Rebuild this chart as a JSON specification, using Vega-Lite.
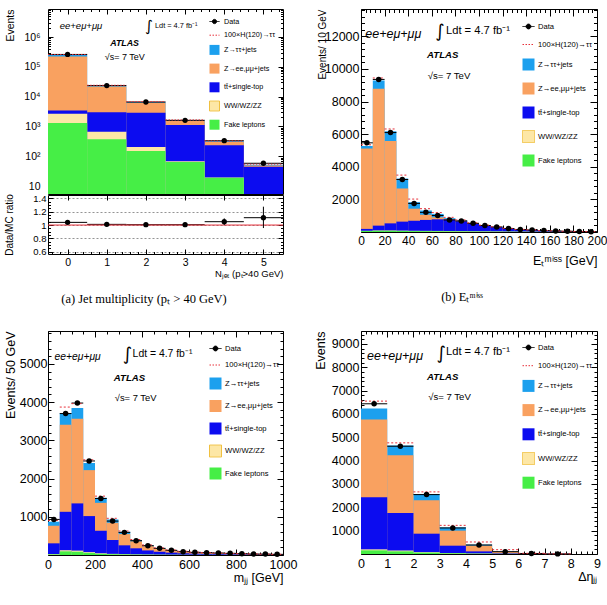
{
"$schema": "https://vega.github.io/schema/vega-lite/v6.json",
"padding": {"left": 3, "top": 8, "right": 0, "bottom": 5},
"background": "white",
"config": {
  "font": "Liberation Sans",
  "view": {"stroke": "black", "strokeWidth": 1},
  "axis": {"domain": false, "grid": false, "tickColor": "black", "labelColor": "black", "titleColor": "black", "titleFontWeight": "normal", "labelOverlap": false, "labelFlush": false, "tickWidth": 1, "zindex": 1, "labelFont": "Liberation Sans", "titleFont": "Liberation Sans"},
  "title": {"font": "Liberation Serif", "fontWeight": "normal", "color": "black", "fontSize": 12.5}
},
"datasets": {
  "a_comp": [
    {"b":-0.5,"e":0.5,"c":"Z→ττ+jets","v":250000},{"b":0.5,"e":1.5,"c":"Z→ττ+jets","v":23300},{"b":1.5,"e":2.5,"c":"Z→ττ+jets","v":6600},{"b":2.5,"e":3.5,"c":"Z→ττ+jets","v":1600},{"b":3.5,"e":4.5,"c":"Z→ττ+jets","v":315},{"b":4.5,"e":5.5,"c":"Z→ττ+jets","v":52},
    {"b":-0.5,"e":0.5,"c":"Z→ee,μμ+jets","v":220000},{"b":0.5,"e":1.5,"c":"Z→ee,μμ+jets","v":22000},{"b":1.5,"e":2.5,"c":"Z→ee,μμ+jets","v":6200},{"b":2.5,"e":3.5,"c":"Z→ee,μμ+jets","v":1520},{"b":3.5,"e":4.5,"c":"Z→ee,μμ+jets","v":300},{"b":4.5,"e":5.5,"c":"Z→ee,μμ+jets","v":49},
    {"b":-0.5,"e":0.5,"c":"tt̄+single-top","v":3400},{"b":0.5,"e":1.5,"c":"tt̄+single-top","v":3000},{"b":1.5,"e":2.5,"c":"tt̄+single-top","v":2900},{"b":2.5,"e":3.5,"c":"tt̄+single-top","v":1120},{"b":3.5,"e":4.5,"c":"tt̄+single-top","v":233},{"b":4.5,"e":5.5,"c":"tt̄+single-top","v":44.5},
    {"b":-0.5,"e":0.5,"c":"WW/WZ/ZZ","v":2650},{"b":0.5,"e":1.5,"c":"WW/WZ/ZZ","v":660},{"b":1.5,"e":2.5,"c":"WW/WZ/ZZ","v":203},{"b":2.5,"e":3.5,"c":"WW/WZ/ZZ","v":68},{"b":3.5,"e":4.5,"c":"WW/WZ/ZZ","v":19.5},{"b":4.5,"e":5.5,"c":"WW/WZ/ZZ","v":3.5},
    {"b":-0.5,"e":0.5,"c":"Fake leptons","v":1300},{"b":0.5,"e":1.5,"c":"Fake leptons","v":370},{"b":1.5,"e":2.5,"c":"Fake leptons","v":150},{"b":2.5,"e":3.5,"c":"Fake leptons","v":64},{"b":3.5,"e":4.5,"c":"Fake leptons","v":19},{"b":4.5,"e":5.5,"c":"Fake leptons","v":3}
  ],
  "a_pts": [
    {"b":-0.5,"e":0.5,"m":0,"d":260000,"h":257500},{"b":0.5,"e":1.5,"m":1,"d":23500,"h":24000},{"b":1.5,"e":2.5,"m":2,"d":6600,"h":6800},{"b":2.5,"e":3.5,"m":3,"d":1600,"h":1650},{"b":3.5,"e":4.5,"m":4,"d":331,"h":325},{"b":4.5,"e":5.5,"m":5,"d":58,"h":54}
  ],
  "a_ratio": [
    {"b":-0.5,"e":0.5,"m":0,"r":1.04,"lo":1.035,"hi":1.045},{"b":0.5,"e":1.5,"m":1,"r":1.01,"lo":1.0,"hi":1.02},{"b":1.5,"e":2.5,"m":2,"r":1.005,"lo":0.99,"hi":1.02},{"b":2.5,"e":3.5,"m":3,"r":1.005,"lo":0.975,"hi":1.035},{"b":3.5,"e":4.5,"m":4,"r":1.05,"lo":1.0,"hi":1.1},{"b":4.5,"e":5.5,"m":5,"r":1.11,"lo":0.955,"hi":1.275}
  ],
  "b_comp": [
    {"b":0,"e":10,"c":"Z→ττ+jets","v":5270},{"b":10,"e":20,"c":"Z→ττ+jets","v":9300},{"b":20,"e":30,"c":"Z→ττ+jets","v":6180},{"b":30,"e":40,"c":"Z→ττ+jets","v":3280},{"b":40,"e":50,"c":"Z→ττ+jets","v":1830},{"b":50,"e":60,"c":"Z→ττ+jets","v":1320},{"b":60,"e":70,"c":"Z→ττ+jets","v":1110},{"b":70,"e":80,"c":"Z→ττ+jets","v":850},{"b":80,"e":90,"c":"Z→ττ+jets","v":715},{"b":90,"e":100,"c":"Z→ττ+jets","v":545},{"b":100,"e":110,"c":"Z→ττ+jets","v":405},{"b":110,"e":120,"c":"Z→ττ+jets","v":312},{"b":120,"e":130,"c":"Z→ττ+jets","v":217},{"b":130,"e":140,"c":"Z→ττ+jets","v":154},{"b":140,"e":150,"c":"Z→ττ+jets","v":125},{"b":150,"e":160,"c":"Z→ττ+jets","v":87},{"b":160,"e":170,"c":"Z→ττ+jets","v":65},{"b":170,"e":180,"c":"Z→ττ+jets","v":46},{"b":180,"e":190,"c":"Z→ττ+jets","v":32},{"b":190,"e":200,"c":"Z→ττ+jets","v":22},
    {"b":0,"e":10,"c":"Z→ee,μμ+jets","v":5120},{"b":10,"e":20,"c":"Z→ee,μμ+jets","v":8790},{"b":20,"e":30,"c":"Z→ee,μμ+jets","v":5590},{"b":30,"e":40,"c":"Z→ee,μμ+jets","v":2670},{"b":40,"e":50,"c":"Z→ee,μμ+jets","v":1430},{"b":50,"e":60,"c":"Z→ee,μμ+jets","v":1060},{"b":60,"e":70,"c":"Z→ee,μμ+jets","v":900},{"b":70,"e":80,"c":"Z→ee,μμ+jets","v":800},{"b":80,"e":90,"c":"Z→ee,μμ+jets","v":690},{"b":90,"e":100,"c":"Z→ee,μμ+jets","v":530},{"b":100,"e":110,"c":"Z→ee,μμ+jets","v":395},{"b":110,"e":120,"c":"Z→ee,μμ+jets","v":305},{"b":120,"e":130,"c":"Z→ee,μμ+jets","v":212},{"b":130,"e":140,"c":"Z→ee,μμ+jets","v":150},{"b":140,"e":150,"c":"Z→ee,μμ+jets","v":122},{"b":150,"e":160,"c":"Z→ee,μμ+jets","v":85},{"b":160,"e":170,"c":"Z→ee,μμ+jets","v":64},{"b":170,"e":180,"c":"Z→ee,μμ+jets","v":45},{"b":180,"e":190,"c":"Z→ee,μμ+jets","v":31},{"b":190,"e":200,"c":"Z→ee,μμ+jets","v":21},
    {"b":0,"e":10,"c":"tt̄+single-top","v":190},{"b":10,"e":20,"c":"tt̄+single-top","v":390},{"b":20,"e":30,"c":"tt̄+single-top","v":530},{"b":30,"e":40,"c":"tt̄+single-top","v":636},{"b":40,"e":50,"c":"tt̄+single-top","v":690},{"b":50,"e":60,"c":"tt̄+single-top","v":740},{"b":60,"e":70,"c":"tt̄+single-top","v":777},{"b":70,"e":80,"c":"tt̄+single-top","v":760},{"b":80,"e":90,"c":"tt̄+single-top","v":660},{"b":90,"e":100,"c":"tt̄+single-top","v":510},{"b":100,"e":110,"c":"tt̄+single-top","v":380},{"b":110,"e":120,"c":"tt̄+single-top","v":295},{"b":120,"e":130,"c":"tt̄+single-top","v":205},{"b":130,"e":140,"c":"tt̄+single-top","v":145},{"b":140,"e":150,"c":"tt̄+single-top","v":118},{"b":150,"e":160,"c":"tt̄+single-top","v":82},{"b":160,"e":170,"c":"tt̄+single-top","v":62},{"b":170,"e":180,"c":"tt̄+single-top","v":44},{"b":180,"e":190,"c":"tt̄+single-top","v":30},{"b":190,"e":200,"c":"tt̄+single-top","v":20},
    {"b":0,"e":10,"c":"WW/WZ/ZZ","v":75},{"b":10,"e":20,"c":"WW/WZ/ZZ","v":95},{"b":20,"e":30,"c":"WW/WZ/ZZ","v":95},{"b":30,"e":40,"c":"WW/WZ/ZZ","v":85},{"b":40,"e":50,"c":"WW/WZ/ZZ","v":75},{"b":50,"e":60,"c":"WW/WZ/ZZ","v":70},{"b":60,"e":70,"c":"WW/WZ/ZZ","v":65},{"b":70,"e":80,"c":"WW/WZ/ZZ","v":58},{"b":80,"e":90,"c":"WW/WZ/ZZ","v":52},{"b":90,"e":100,"c":"WW/WZ/ZZ","v":45},{"b":100,"e":110,"c":"WW/WZ/ZZ","v":40},{"b":110,"e":120,"c":"WW/WZ/ZZ","v":35},{"b":120,"e":130,"c":"WW/WZ/ZZ","v":30},{"b":130,"e":140,"c":"WW/WZ/ZZ","v":25},{"b":140,"e":150,"c":"WW/WZ/ZZ","v":20},{"b":150,"e":160,"c":"WW/WZ/ZZ","v":16},{"b":160,"e":170,"c":"WW/WZ/ZZ","v":13},{"b":170,"e":180,"c":"WW/WZ/ZZ","v":10},{"b":180,"e":190,"c":"WW/WZ/ZZ","v":8},{"b":190,"e":200,"c":"WW/WZ/ZZ","v":6},
    {"b":0,"e":10,"c":"Fake leptons","v":60},{"b":10,"e":20,"c":"Fake leptons","v":75},{"b":20,"e":30,"c":"Fake leptons","v":75},{"b":30,"e":40,"c":"Fake leptons","v":65},{"b":40,"e":50,"c":"Fake leptons","v":55},{"b":50,"e":60,"c":"Fake leptons","v":50},{"b":60,"e":70,"c":"Fake leptons","v":45},{"b":70,"e":80,"c":"Fake leptons","v":40},{"b":80,"e":90,"c":"Fake leptons","v":35},{"b":90,"e":100,"c":"Fake leptons","v":30},{"b":100,"e":110,"c":"Fake leptons","v":26},{"b":110,"e":120,"c":"Fake leptons","v":22},{"b":120,"e":130,"c":"Fake leptons","v":18},{"b":130,"e":140,"c":"Fake leptons","v":15},{"b":140,"e":150,"c":"Fake leptons","v":12},{"b":150,"e":160,"c":"Fake leptons","v":10},{"b":160,"e":170,"c":"Fake leptons","v":8},{"b":170,"e":180,"c":"Fake leptons","v":6},{"b":180,"e":190,"c":"Fake leptons","v":5},{"b":190,"e":200,"c":"Fake leptons","v":4}
  ],
  "b_pts": [
    {"b":0,"e":10,"m":5,"d":5470,"h":5350},{"b":10,"e":20,"m":15,"d":9360,"h":9450},{"b":20,"e":30,"m":25,"d":6100,"h":6320},{"b":30,"e":40,"m":35,"d":3220,"h":3490},{"b":40,"e":50,"m":45,"d":1755,"h":2020},{"b":50,"e":60,"m":55,"d":1205,"h":1430},{"b":60,"e":70,"m":65,"d":1010,"h":1190},{"b":70,"e":80,"m":75,"d":740,"h":900},{"b":80,"e":90,"m":85,"d":679,"h":740},{"b":90,"e":100,"m":95,"d":532,"h":565},{"b":100,"e":110,"m":105,"d":400,"h":420},{"b":110,"e":120,"m":115,"d":310,"h":322},{"b":120,"e":130,"m":125,"d":210,"h":225},{"b":130,"e":140,"m":135,"d":150,"h":160},{"b":140,"e":150,"m":145,"d":126,"h":130},{"b":150,"e":160,"m":155,"d":86,"h":90},{"b":160,"e":170,"m":165,"d":65,"h":68},{"b":170,"e":180,"m":175,"d":45,"h":48},{"b":180,"e":190,"m":185,"d":30,"h":34},{"b":190,"e":200,"m":195,"d":20,"h":24}
  ],
  "c_comp": [
    {"b":0,"e":50,"c":"Z→ττ+jets","v":870},{"b":50,"e":100,"c":"Z→ττ+jets","v":3715},{"b":100,"e":150,"c":"Z→ττ+jets","v":3845},{"b":150,"e":200,"c":"Z→ττ+jets","v":2410},{"b":200,"e":250,"c":"Z→ττ+jets","v":1496},{"b":250,"e":300,"c":"Z→ττ+jets","v":930},{"b":300,"e":350,"c":"Z→ττ+jets","v":608},{"b":350,"e":400,"c":"Z→ττ+jets","v":391},{"b":400,"e":450,"c":"Z→ττ+jets","v":252},{"b":450,"e":500,"c":"Z→ττ+jets","v":180},{"b":500,"e":550,"c":"Z→ττ+jets","v":128},{"b":550,"e":600,"c":"Z→ττ+jets","v":92},{"b":600,"e":650,"c":"Z→ττ+jets","v":72},{"b":650,"e":700,"c":"Z→ττ+jets","v":60},{"b":700,"e":750,"c":"Z→ττ+jets","v":48},{"b":750,"e":800,"c":"Z→ττ+jets","v":40},{"b":800,"e":850,"c":"Z→ττ+jets","v":32},{"b":850,"e":900,"c":"Z→ττ+jets","v":26},{"b":900,"e":950,"c":"Z→ττ+jets","v":21},{"b":950,"e":1000,"c":"Z→ττ+jets","v":17},
    {"b":0,"e":50,"c":"Z→ee,μμ+jets","v":765},{"b":50,"e":100,"c":"Z→ee,μμ+jets","v":3410},{"b":100,"e":150,"c":"Z→ee,μμ+jets","v":3567},{"b":150,"e":200,"c":"Z→ee,μμ+jets","v":2220},{"b":200,"e":250,"c":"Z→ee,μμ+jets","v":1365},{"b":250,"e":300,"c":"Z→ee,μμ+jets","v":843},{"b":300,"e":350,"c":"Z→ee,μμ+jets","v":548},{"b":350,"e":400,"c":"Z→ee,μμ+jets","v":358},{"b":400,"e":450,"c":"Z→ee,μμ+jets","v":232},{"b":450,"e":500,"c":"Z→ee,μμ+jets","v":165},{"b":500,"e":550,"c":"Z→ee,μμ+jets","v":118},{"b":550,"e":600,"c":"Z→ee,μμ+jets","v":85},{"b":600,"e":650,"c":"Z→ee,μμ+jets","v":66},{"b":650,"e":700,"c":"Z→ee,μμ+jets","v":55},{"b":700,"e":750,"c":"Z→ee,μμ+jets","v":44},{"b":750,"e":800,"c":"Z→ee,μμ+jets","v":37},{"b":800,"e":850,"c":"Z→ee,μμ+jets","v":29},{"b":850,"e":900,"c":"Z→ee,μμ+jets","v":24},{"b":900,"e":950,"c":"Z→ee,μμ+jets","v":19},{"b":950,"e":1000,"c":"Z→ee,μμ+jets","v":15},
    {"b":0,"e":50,"c":"tt̄+single-top","v":305},{"b":50,"e":100,"c":"tt̄+single-top","v":1130},{"b":100,"e":150,"c":"tt̄+single-top","v":1350},{"b":150,"e":200,"c":"tt̄+single-top","v":1018},{"b":200,"e":250,"c":"tt̄+single-top","v":634},{"b":250,"e":300,"c":"tt̄+single-top","v":392},{"b":300,"e":350,"c":"tt̄+single-top","v":253},{"b":350,"e":400,"c":"tt̄+single-top","v":175},{"b":400,"e":450,"c":"tt̄+single-top","v":120},{"b":450,"e":500,"c":"tt̄+single-top","v":85},{"b":500,"e":550,"c":"tt̄+single-top","v":62},{"b":550,"e":600,"c":"tt̄+single-top","v":46},{"b":600,"e":650,"c":"tt̄+single-top","v":36},{"b":650,"e":700,"c":"tt̄+single-top","v":30},{"b":700,"e":750,"c":"tt̄+single-top","v":24},{"b":750,"e":800,"c":"tt̄+single-top","v":20},{"b":800,"e":850,"c":"tt̄+single-top","v":16},{"b":850,"e":900,"c":"tt̄+single-top","v":13},{"b":900,"e":950,"c":"tt̄+single-top","v":10},{"b":950,"e":1000,"c":"tt̄+single-top","v":8},
    {"b":0,"e":50,"c":"WW/WZ/ZZ","v":25},{"b":50,"e":100,"c":"WW/WZ/ZZ","v":125},{"b":100,"e":150,"c":"WW/WZ/ZZ","v":115},{"b":150,"e":200,"c":"WW/WZ/ZZ","v":75},{"b":200,"e":250,"c":"WW/WZ/ZZ","v":45},{"b":250,"e":300,"c":"WW/WZ/ZZ","v":30},{"b":300,"e":350,"c":"WW/WZ/ZZ","v":22},{"b":350,"e":400,"c":"WW/WZ/ZZ","v":15},{"b":400,"e":450,"c":"WW/WZ/ZZ","v":12},{"b":450,"e":500,"c":"WW/WZ/ZZ","v":9},{"b":500,"e":550,"c":"WW/WZ/ZZ","v":7},{"b":550,"e":600,"c":"WW/WZ/ZZ","v":6},{"b":600,"e":650,"c":"WW/WZ/ZZ","v":5},{"b":650,"e":700,"c":"WW/WZ/ZZ","v":4},{"b":700,"e":750,"c":"WW/WZ/ZZ","v":3},{"b":750,"e":800,"c":"WW/WZ/ZZ","v":3},{"b":800,"e":850,"c":"WW/WZ/ZZ","v":2},{"b":850,"e":900,"c":"WW/WZ/ZZ","v":2},{"b":900,"e":950,"c":"WW/WZ/ZZ","v":1},{"b":950,"e":1000,"c":"WW/WZ/ZZ","v":1},
    {"b":0,"e":50,"c":"Fake leptons","v":15},{"b":50,"e":100,"c":"Fake leptons","v":95},{"b":100,"e":150,"c":"Fake leptons","v":85},{"b":150,"e":200,"c":"Fake leptons","v":55},{"b":200,"e":250,"c":"Fake leptons","v":30},{"b":250,"e":300,"c":"Fake leptons","v":20},{"b":300,"e":350,"c":"Fake leptons","v":15},{"b":350,"e":400,"c":"Fake leptons","v":10},{"b":400,"e":450,"c":"Fake leptons","v":8},{"b":450,"e":500,"c":"Fake leptons","v":6},{"b":500,"e":550,"c":"Fake leptons","v":5},{"b":550,"e":600,"c":"Fake leptons","v":4},{"b":600,"e":650,"c":"Fake leptons","v":3},{"b":650,"e":700,"c":"Fake leptons","v":3},{"b":700,"e":750,"c":"Fake leptons","v":2},{"b":750,"e":800,"c":"Fake leptons","v":2},{"b":800,"e":850,"c":"Fake leptons","v":1},{"b":850,"e":900,"c":"Fake leptons","v":1},{"b":900,"e":950,"c":"Fake leptons","v":1},{"b":950,"e":1000,"c":"Fake leptons","v":1}
  ],
  "c_pts": [
    {"b":0,"e":50,"m":25,"d":931,"h":905},{"b":50,"e":100,"m":75,"d":3700,"h":3870},{"b":100,"e":150,"m":125,"d":3975,"h":3960},{"b":150,"e":200,"m":175,"d":2460,"h":2490},{"b":200,"e":250,"m":225,"d":1479,"h":1540},{"b":250,"e":300,"m":275,"d":887,"h":960},{"b":300,"e":350,"m":325,"d":592,"h":628},{"b":350,"e":400,"m":375,"d":374,"h":405},{"b":400,"e":450,"m":425,"d":244,"h":262},{"b":450,"e":500,"m":475,"d":174,"h":188},{"b":500,"e":550,"m":525,"d":122,"h":134},{"b":550,"e":600,"m":575,"d":87,"h":97},{"b":600,"e":650,"m":625,"d":70,"h":75},{"b":650,"e":700,"m":675,"d":62,"h":63},{"b":700,"e":750,"m":725,"d":52,"h":50},{"b":750,"e":800,"m":775,"d":43,"h":42},{"b":800,"e":850,"m":825,"d":35,"h":34},{"b":850,"e":900,"m":875,"d":26,"h":27},{"b":900,"e":950,"m":925,"d":24,"h":22},{"b":950,"e":1000,"m":975,"d":17,"h":18}
  ],
  "d_comp": [
    {"b":0,"e":1,"c":"Z→ττ+jets","v":6234},{"b":1,"e":2,"c":"Z→ττ+jets","v":4646},{"b":2,"e":3,"c":"Z→ττ+jets","v":2574},{"b":3,"e":4,"c":"Z→ττ+jets","v":1141},{"b":4,"e":5,"c":"Z→ττ+jets","v":400},{"b":5,"e":6,"c":"Z→ττ+jets","v":112},{"b":6,"e":7,"c":"Z→ττ+jets","v":25},{"b":7,"e":8,"c":"Z→ττ+jets","v":6},
    {"b":0,"e":1,"c":"Z→ee,μμ+jets","v":5760},{"b":1,"e":2,"c":"Z→ee,μμ+jets","v":4232},{"b":2,"e":3,"c":"Z→ee,μμ+jets","v":2300},{"b":3,"e":4,"c":"Z→ee,μμ+jets","v":1000},{"b":4,"e":5,"c":"Z→ee,μμ+jets","v":356},{"b":5,"e":6,"c":"Z→ee,μμ+jets","v":100},{"b":6,"e":7,"c":"Z→ee,μμ+jets","v":22},{"b":7,"e":8,"c":"Z→ee,μμ+jets","v":5},
    {"b":0,"e":1,"c":"tt̄+single-top","v":2430},{"b":1,"e":2,"c":"tt̄+single-top","v":1759},{"b":2,"e":3,"c":"tt̄+single-top","v":870},{"b":3,"e":4,"c":"tt̄+single-top","v":356},{"b":4,"e":5,"c":"tt̄+single-top","v":112},{"b":5,"e":6,"c":"tt̄+single-top","v":30},{"b":6,"e":7,"c":"tt̄+single-top","v":8},{"b":7,"e":8,"c":"tt̄+single-top","v":2},
    {"b":0,"e":1,"c":"WW/WZ/ZZ","v":200},{"b":1,"e":2,"c":"WW/WZ/ZZ","v":150},{"b":2,"e":3,"c":"WW/WZ/ZZ","v":80},{"b":3,"e":4,"c":"WW/WZ/ZZ","v":40},{"b":4,"e":5,"c":"WW/WZ/ZZ","v":20},{"b":5,"e":6,"c":"WW/WZ/ZZ","v":8},{"b":6,"e":7,"c":"WW/WZ/ZZ","v":3},{"b":7,"e":8,"c":"WW/WZ/ZZ","v":1},
    {"b":0,"e":1,"c":"Fake leptons","v":155},{"b":1,"e":2,"c":"Fake leptons","v":112},{"b":2,"e":3,"c":"Fake leptons","v":60},{"b":3,"e":4,"c":"Fake leptons","v":30},{"b":4,"e":5,"c":"Fake leptons","v":15},{"b":5,"e":6,"c":"Fake leptons","v":5},{"b":6,"e":7,"c":"Fake leptons","v":2},{"b":7,"e":8,"c":"Fake leptons","v":1}
  ],
  "d_pts": [
    {"b":0,"e":1,"m":0.5,"d":6433,"h":6547},{"b":1,"e":2,"m":1.5,"d":4616,"h":4760},{"b":2,"e":3,"m":2.5,"d":2544,"h":2660},{"b":3,"e":4,"m":3.5,"d":1115,"h":1227},{"b":4,"e":5,"m":4.5,"d":386,"h":515},{"b":5,"e":6,"m":5.5,"d":99,"h":185},{"b":6,"e":7,"m":6.5,"d":20,"h":30},{"b":7,"e":8,"m":7.5,"d":5,"h":7}
  ]
},
"resolve": {"scale": {"color": "independent"}, "legend": {"color": "independent"}},
"spacing": 24,
"vconcat": [
 {
  "hconcat": [
   {
    "title": {"text": "(a) Jet multiplicity (pₜ > 40 GeV)", "orient": "bottom", "offset": 15, "anchor": "middle", "frame": "bounds"},
    "spacing": 1,
    "bounds": "flush",
    "vconcat": [
     {
      "width": 235, "height": 185,
      "resolve": {"axis": {"x": "independent", "y": "independent"}},
      "layer": [
       {
        "data": {"name": "a_comp"},
        "mark": {"type": "rect", "clip": true},
        "encoding": {
          "x": {"field": "b", "type": "quantitative", "scale": {"domain": [-0.5, 5.5], "nice": false, "zero": false},
                "axis": {"orient": "bottom", "values": [0,1,2,3,4,5], "labels": false, "tickSize": -5, "title": null}},
          "x2": {"field": "e"},
          "y": {"field": "v", "type": "quantitative", "scale": {"type": "log", "domain": [5.4, 8700000], "nice": false},
                "axis": {"orient": "left", "values": [10,100,1000,10000,100000,1000000], "labelExpr": "datum.value < 15 ? '10' : '10' + ['','','²','³','⁴','⁵','⁶'][round(log(datum.value)/LN10)]", "tickSize": -5, "labelPadding": 13, "labelFontSize": 10.5, "title": "Events", "titleAnchor": "end", "titleFontSize": 10.5, "minExtent": 25, "maxExtent": 25, "titlePadding": 8}},
          "y2": {"datum": 1},
          "color": {"field": "c", "type": "nominal",
            "scale": {"domain": ["Data","100×H(120)→ττ","Z→ττ+jets","Z→ee,μμ+jets","tt̄+single-top","WW/WZ/ZZ","Fake leptons"], "range": ["#000000","#e8303a","#1ca0ee","#f9a160","#0c0cf0","#fde7a6","#46ee46"]},
            "legend": {"title": null, "orient": "none", "legendX": 161, "legendY": 7, "symbolSize": 100, "symbolType": "square", "labelFontSize": 7.2, "labelFont": "Liberation Sans", "labelColor": "black", "labelOffset": 4, "rowPadding": 3.7, "symbolStrokeWidth": 1, "labelLimit": 200,
              "encode": {"symbols": {"update": {
                "shape": {"signal": "datum.value == 'Data' ? 'M-1,0H1M0.42,0A0.42,0.42,0,1,1,-0.42,0A0.42,0.42,0,1,1,0.42,0Z' : (datum.value == '100×H(120)→ττ' ? 'M-1,0H1' : 'square')"},
                "stroke": {"signal": "datum.value == 'Data' ? 'black' : (datum.value == '100×H(120)→ττ' ? '#e8303a' : (datum.value == 'WW/WZ/ZZ' ? '#f0c040' : 'transparent'))"},
                "strokeDash": {"signal": "datum.value == '100×H(120)→ττ' ? [1.5,1.5] : [1,0]"}
              }}}}}
        }
       },
       {
        "data": {"name": "a_pts"},
        "mark": {"type": "rule", "color": "black", "strokeWidth": 1},
        "encoding": {
          "x": {"field": "b", "type": "quantitative", "axis": {"orient": "top", "values": [0,1,2,3,4,5], "labels": false, "tickSize": -5, "title": null}},
          "x2": {"field": "e"},
          "y": {"field": "d", "type": "quantitative", "axis": {"orient": "right", "values": [10,100,1000,10000,100000,1000000], "labels": false, "tickSize": -5, "title": null}}
        }
       },
       {
        "data": {"name": "a_pts"},
        "mark": {"type": "rule", "color": "#e8303a", "strokeWidth": 1, "strokeDash": [1.5,1.5]},
        "encoding": {
          "x": {"field": "b", "type": "quantitative", "axis": {"orient": "bottom", "values": [-0.4,-0.2,0.2,0.4,0.6,0.8,1.2,1.4,1.6,1.8,2.2,2.4,2.6,2.8,3.2,3.4,3.6,3.8,4.2,4.4,4.6,4.8,5.2,5.4], "labels": false, "tickSize": -2.5, "title": null}},
          "x2": {"field": "e"},
          "y": {"field": "h", "type": "quantitative", "axis": {"orient": "left", "values": [6,7,8,9,20,30,40,50,60,70,80,90,200,300,400,500,600,700,800,900,2000,3000,4000,5000,6000,7000,8000,9000,20000,30000,40000,50000,60000,70000,80000,90000,200000,300000,400000,500000,600000,700000,800000,900000,2000000,3000000,4000000,5000000,6000000,7000000,8000000], "labels": false, "tickSize": -2.5, "title": null}}
        }
       },
       {
        "data": {"name": "a_pts"},
        "mark": {"type": "circle", "color": "black", "opacity": 1, "size": 28},
        "encoding": {
          "x": {"field": "m", "type": "quantitative", "axis": {"orient": "top", "values": [-0.4,-0.2,0.2,0.4,0.6,0.8,1.2,1.4,1.6,1.8,2.2,2.4,2.6,2.8,3.2,3.4,3.6,3.8,4.2,4.4,4.6,4.8,5.2,5.4], "labels": false, "tickSize": -2.5, "title": null}},
          "y": {"field": "d", "type": "quantitative", "axis": {"orient": "right", "values": [6,7,8,9,20,30,40,50,60,70,80,90,200,300,400,500,600,700,800,900,2000,3000,4000,5000,6000,7000,8000,9000,20000,30000,40000,50000,60000,70000,80000,90000,200000,300000,400000,500000,600000,700000,800000,900000,2000000,3000000,4000000,5000000,6000000,7000000,8000000], "labels": false, "tickSize": -2.5, "title": null}}
        }
       },
       {"data": {"values": [{}]}, "mark": {"type": "text", "text": "ee+eμ+μμ", "align": "left", "baseline": "middle", "fontSize": 9.5, "fontStyle": "italic"}, "encoding": {"x": {"datum": -0.2, "axis": null}, "y": {"datum": 2400000, "axis": null}}},
       {"data": {"values": [{}]}, "mark": {"type": "text", "text": "∫", "align": "left", "baseline": "middle", "fontSize": 15, "font": "DejaVu Sans"}, "encoding": {"x": {"datum": 1.98, "axis": null}, "y": {"datum": 2400000, "axis": null}}},
       {"data": {"values": [{}]}, "mark": {"type": "text", "text": "Ldt = 4.7 fb⁻¹", "align": "left", "baseline": "middle", "fontSize": 7.4}, "encoding": {"x": {"datum": 2.23, "axis": null}, "y": {"datum": 2400000, "axis": null}}},
       {"data": {"values": [{}]}, "mark": {"type": "text", "text": "ATLAS", "align": "left", "baseline": "middle", "fontSize": 8.8, "fontWeight": "bold", "fontStyle": "italic"}, "encoding": {"x": {"datum": 1.09, "axis": null}, "y": {"datum": 630000, "axis": null}}},
       {"data": {"values": [{}]}, "mark": {"type": "text", "text": "√s= 7 TeV", "align": "left", "baseline": "middle", "fontSize": 9}, "encoding": {"x": {"datum": 0.95, "axis": null}, "y": {"datum": 214000, "axis": null}}}
      ]
     },
     {
      "width": 235, "height": 59,
      "resolve": {"axis": {"x": "independent", "y": "independent"}},
      "layer": [
       {
        "data": {"name": "a_ratio"},
        "mark": {"type": "rule", "color": "black", "strokeWidth": 1},
        "encoding": {
          "x": {"field": "b", "type": "quantitative", "scale": {"domain": [-0.5, 5.5], "nice": false, "zero": false},
                "axis": {"orient": "bottom", "values": [0,1,2,3,4,5], "tickSize": -5, "labelPadding": 8, "labelFontSize": 10.5, "title": "Nⱼₑₜ (pₜ>40 GeV)", "titleAnchor": "end", "titleFontSize": 9.5, "minExtent": 14, "maxExtent": 14, "titlePadding": 0}},
          "x2": {"field": "e"},
          "y": {"field": "r", "type": "quantitative", "scale": {"domain": [0.566, 1.45], "nice": false, "zero": false},
                "axis": {"orient": "left", "values": [0.6,0.8,1,1.2,1.4], "format": "~g", "tickSize": -5, "labelPadding": 7, "labelFontSize": 9.5, "grid": true, "gridDash": [2,2], "gridColor": "#666", "gridWidth": 0.7, "zindex": 0, "title": "Data/MC ratio", "titleFontSize": 10, "minExtent": 25.5, "maxExtent": 25.5, "titlePadding": 8}}
        }
       },
       {
        "data": {"values": [{}]},
        "mark": {"type": "rule", "color": "#e8303a", "strokeWidth": 1},
        "encoding": {"y": {"datum": 1, "axis": {"orient": "right", "values": [0.6,0.65,0.7,0.75,0.8,0.85,0.9,0.95,1,1.05,1.1,1.15,1.2,1.25,1.3,1.35,1.4], "labels": false, "tickSize": -2.5, "title": null}}}
       },
       {
        "data": {"name": "a_ratio"},
        "mark": {"type": "rule", "color": "black", "strokeWidth": 1},
        "encoding": {
          "x": {"field": "m", "type": "quantitative", "axis": {"orient": "top", "values": [0,1,2,3,4,5], "labels": false, "tickSize": -5, "title": null}},
          "y": {"field": "lo", "type": "quantitative", "axis": {"orient": "right", "values": [0.6,0.8,1,1.2,1.4], "labels": false, "tickSize": -5, "title": null}},
          "y2": {"field": "hi"}
        }
       },
       {
        "data": {"name": "a_ratio"},
        "mark": {"type": "circle", "color": "black", "opacity": 1, "size": 28},
        "encoding": {
          "x": {"field": "m", "type": "quantitative", "axis": {"orient": "bottom", "values": [-0.4,-0.2,0.2,0.4,0.6,0.8,1.2,1.4,1.6,1.8,2.2,2.4,2.6,2.8,3.2,3.4,3.6,3.8,4.2,4.4,4.6,4.8,5.2,5.4], "labels": false, "tickSize": -2.5, "title": null}},
          "y": {"field": "r", "type": "quantitative", "axis": {"orient": "left", "values": [0.6,0.65,0.7,0.75,0.8,0.85,0.9,0.95,1,1.05,1.1,1.15,1.2,1.25,1.3,1.35,1.4], "labels": false, "tickSize": -2.5, "title": null}}
        }
       }
      ]
     }
    ]
   },
   {
    "width": 236, "height": 223,
    "title": {"text": "(b) Eₜᵐⁱˢˢ", "orient": "bottom", "offset": 24, "anchor": "middle", "frame": "bounds"},
    "resolve": {"axis": {"x": "independent", "y": "independent"}},
    "layer": [
     {
      "data": {"name": "b_comp"},
      "mark": {"type": "rect", "clip": true},
      "encoding": {
        "x": {"field": "b", "type": "quantitative", "scale": {"domain": [0, 200], "nice": false, "zero": false},
              "axis": {"orient": "bottom", "values": [0,20,40,60,80,100,120,140,160,180,200], "format": "d", "tickSize": -7, "labelPadding": 10, "labelFontSize": 12, "title": "Eₜᵐⁱˢˢ [GeV]", "titleAnchor": "end", "titleFontSize": 12.5, "minExtent": 17, "maxExtent": 17, "titlePadding": 5}},
        "x2": {"field": "e"},
        "y": {"field": "v", "type": "quantitative", "scale": {"domain": [0, 13680], "nice": false},
              "axis": {"orient": "left", "values": [2000,4000,6000,8000,10000,12000], "format": "d", "tickSize": -7, "labelPadding": 9, "labelFontSize": 12.5, "title": "Events/ 10 GeV", "titleAnchor": "end", "titleFontSize": 10, "minExtent": 30, "maxExtent": 30, "titlePadding": 4}},
        "y2": {"datum": 0},
        "color": {"field": "c", "type": "nominal",
          "scale": {"domain": ["Data","100×H(120)→ττ","Z→ττ+jets","Z→ee,μμ+jets","tt̄+single-top","WW/WZ/ZZ","Fake leptons"], "range": ["#000000","#e8303a","#1ca0ee","#f9a160","#0c0cf0","#fde7a6","#46ee46"]},
          "legend": {"title": null, "orient": "none", "legendX": 161, "legendY": 11, "symbolSize": 144, "symbolType": "square", "labelFontSize": 7.6, "labelFont": "Liberation Sans", "labelColor": "black", "labelOffset": 3, "rowPadding": 7, "symbolStrokeWidth": 1, "labelLimit": 200,
            "encode": {"symbols": {"update": {
              "shape": {"signal": "datum.value == 'Data' ? 'M-1,0H1M0.4,0A0.4,0.4,0,1,1,-0.4,0A0.4,0.4,0,1,1,0.4,0Z' : (datum.value == '100×H(120)→ττ' ? 'M-1,0H1' : 'square')"},
              "stroke": {"signal": "datum.value == 'Data' ? 'black' : (datum.value == '100×H(120)→ττ' ? '#e8303a' : (datum.value == 'WW/WZ/ZZ' ? '#f0c040' : 'transparent'))"},
              "strokeDash": {"signal": "datum.value == '100×H(120)→ττ' ? [1.5,1.5] : [1,0]"}
            }}}}}
      }
     },
     {
      "data": {"name": "b_pts"},
      "mark": {"type": "rule", "color": "black", "strokeWidth": 1},
      "encoding": {
        "x": {"field": "b", "type": "quantitative", "axis": {"orient": "top", "values": [0,20,40,60,80,100,120,140,160,180,200], "labels": false, "tickSize": -7, "title": null}},
        "x2": {"field": "e"},
        "y": {"field": "d", "type": "quantitative", "axis": {"orient": "right", "values": [2000,4000,6000,8000,10000,12000], "labels": false, "tickSize": -7, "title": null}}
      }
     },
     {
      "data": {"name": "b_pts"},
      "mark": {"type": "rule", "color": "#e8303a", "strokeWidth": 1, "strokeDash": [2,2]},
      "encoding": {
        "x": {"field": "b", "type": "quantitative", "axis": {"orient": "bottom", "values": [4,8,12,16,24,28,32,36,44,48,52,56,64,68,72,76,84,88,92,96,104,108,112,116,124,128,132,136,144,148,152,156,164,168,172,176,184,188,192,196], "labels": false, "tickSize": -3.5, "title": null}},
        "x2": {"field": "e"},
        "y": {"field": "h", "type": "quantitative", "axis": {"orient": "left", "values": [400,800,1200,1600,2400,2800,3200,3600,4400,4800,5200,5600,6400,6800,7200,7600,8400,8800,9200,9600,10400,10800,11200,11600,12400,12800,13200,13600], "labels": false, "tickSize": -3.5, "title": null}}
      }
     },
     {
      "data": {"name": "b_pts"},
      "mark": {"type": "circle", "color": "black", "opacity": 1, "size": 30},
      "encoding": {
        "x": {"field": "m", "type": "quantitative", "axis": {"orient": "top", "values": [4,8,12,16,24,28,32,36,44,48,52,56,64,68,72,76,84,88,92,96,104,108,112,116,124,128,132,136,144,148,152,156,164,168,172,176,184,188,192,196], "labels": false, "tickSize": -3.5, "title": null}},
        "y": {"field": "d", "type": "quantitative", "axis": {"orient": "right", "values": [400,800,1200,1600,2400,2800,3200,3600,4400,4800,5200,5600,6400,6800,7200,7600,8400,8800,9200,9600,10400,10800,11200,11600,12400,12800,13200,13600], "labels": false, "tickSize": -3.5, "title": null}}
      }
     },
     {"data": {"values": [{}]}, "mark": {"type": "text", "text": "ee+eμ+μμ", "align": "left", "baseline": "middle", "fontSize": 12.5, "fontStyle": "italic"}, "encoding": {"x": {"datum": 3.6, "axis": null}, "y": {"datum": 12150, "axis": null}}},
     {"data": {"values": [{}]}, "mark": {"type": "text", "text": "∫", "align": "left", "baseline": "middle", "fontSize": 18, "font": "DejaVu Sans"}, "encoding": {"x": {"datum": 63, "axis": null}, "y": {"datum": 12250, "axis": null}}},
     {"data": {"values": [{}]}, "mark": {"type": "text", "text": "Ldt = 4.7 fb⁻¹", "align": "left", "baseline": "middle", "fontSize": 11.2}, "encoding": {"x": {"datum": 72, "axis": null}, "y": {"datum": 12350, "axis": null}}},
     {"data": {"values": [{}]}, "mark": {"type": "text", "text": "ATLAS", "align": "left", "baseline": "middle", "fontSize": 9.6, "fontWeight": "bold", "fontStyle": "italic"}, "encoding": {"x": {"datum": 56, "axis": null}, "y": {"datum": 10830, "axis": null}}},
     {"data": {"values": [{}]}, "mark": {"type": "text", "text": "√s= 7 TeV", "align": "left", "baseline": "middle", "fontSize": 9.6}, "encoding": {"x": {"datum": 56.5, "axis": null}, "y": {"datum": 9565, "axis": null}}}
    ]
   }
  ],
  "spacing": 32,
  "resolve": {"scale": {"color": "independent"}, "legend": {"color": "independent"}}
 },
 {
  "hconcat": [
   {
    "width": 235, "height": 224,
    "resolve": {"axis": {"x": "independent", "y": "independent"}},
    "layer": [
     {
      "data": {"name": "c_comp"},
      "mark": {"type": "rect", "clip": true},
      "encoding": {
        "x": {"field": "b", "type": "quantitative", "scale": {"domain": [0, 1000], "nice": false, "zero": false},
              "axis": {"orient": "bottom", "values": [0,200,400,600,800,1000], "format": "d", "tickSize": -6, "labelPadding": 9, "labelFontSize": 12.5, "title": "mⱼⱼ [GeV]", "titleAnchor": "end", "titleFontSize": 12.5, "minExtent": 16, "maxExtent": 16, "titlePadding": 0}},
        "x2": {"field": "e"},
        "y": {"field": "v", "type": "quantitative", "scale": {"domain": [0, 5860], "nice": false},
              "axis": {"orient": "left", "values": [1000,2000,3000,4000,5000], "format": "d", "tickSize": -6, "labelPadding": 7, "labelFontSize": 12.5, "title": "Events/ 50 GeV", "titleAnchor": "end", "titleFontSize": 12.5, "minExtent": 27, "maxExtent": 27, "titlePadding": 4}},
        "y2": {"datum": 0},
        "color": {"field": "c", "type": "nominal",
          "scale": {"domain": ["Data","100×H(120)→ττ","Z→ττ+jets","Z→ee,μμ+jets","tt̄+single-top","WW/WZ/ZZ","Fake leptons"], "range": ["#000000","#e8303a","#1ca0ee","#f9a160","#0c0cf0","#fde7a6","#46ee46"]},
          "legend": {"title": null, "orient": "none", "legendX": 161, "legendY": 11, "symbolSize": 144, "symbolType": "square", "labelFontSize": 7.6, "labelFont": "Liberation Sans", "labelColor": "black", "labelOffset": 3, "rowPadding": 5.5, "symbolStrokeWidth": 1, "labelLimit": 200,
            "encode": {"symbols": {"update": {
              "shape": {"signal": "datum.value == 'Data' ? 'M-1,0H1M0.4,0A0.4,0.4,0,1,1,-0.4,0A0.4,0.4,0,1,1,0.4,0Z' : (datum.value == '100×H(120)→ττ' ? 'M-1,0H1' : 'square')"},
              "stroke": {"signal": "datum.value == 'Data' ? 'black' : (datum.value == '100×H(120)→ττ' ? '#e8303a' : (datum.value == 'WW/WZ/ZZ' ? '#f0c040' : 'transparent'))"},
              "strokeDash": {"signal": "datum.value == '100×H(120)→ττ' ? [1.5,1.5] : [1,0]"}
            }}}}}
      }
     },
     {
      "data": {"name": "c_pts"},
      "mark": {"type": "rule", "color": "black", "strokeWidth": 1},
      "encoding": {
        "x": {"field": "b", "type": "quantitative", "axis": {"orient": "top", "values": [0,200,400,600,800,1000], "labels": false, "tickSize": -6, "title": null}},
        "x2": {"field": "e"},
        "y": {"field": "d", "type": "quantitative", "axis": {"orient": "right", "values": [1000,2000,3000,4000,5000], "labels": false, "tickSize": -6, "title": null}}
      }
     },
     {
      "data": {"name": "c_pts"},
      "mark": {"type": "rule", "color": "#e8303a", "strokeWidth": 1, "strokeDash": [2,2]},
      "encoding": {
        "x": {"field": "b", "type": "quantitative", "axis": {"orient": "bottom", "values": [50,100,150,250,300,350,450,500,550,650,700,750,850,900,950], "labels": false, "tickSize": -3, "title": null}},
        "x2": {"field": "e"},
        "y": {"field": "h", "type": "quantitative", "axis": {"orient": "left", "values": [200,400,600,800,1200,1400,1600,1800,2200,2400,2600,2800,3200,3400,3600,3800,4200,4400,4600,4800,5200,5400,5600,5800], "labels": false, "tickSize": -3, "title": null}}
      }
     },
     {
      "data": {"name": "c_pts"},
      "mark": {"type": "circle", "color": "black", "opacity": 1, "size": 30},
      "encoding": {
        "x": {"field": "m", "type": "quantitative", "axis": {"orient": "top", "values": [50,100,150,250,300,350,450,500,550,650,700,750,850,900,950], "labels": false, "tickSize": -3, "title": null}},
        "y": {"field": "d", "type": "quantitative", "axis": {"orient": "right", "values": [200,400,600,800,1200,1400,1600,1800,2200,2400,2600,2800,3200,3400,3600,3800,4200,4400,4600,4800,5200,5400,5600,5800], "labels": false, "tickSize": -3, "title": null}}
      }
     },
     {"data": {"values": [{}]}, "mark": {"type": "text", "text": "ee+eμ+μμ", "align": "left", "baseline": "middle", "fontSize": 10.3, "fontStyle": "italic"}, "encoding": {"x": {"datum": 28, "axis": null}, "y": {"datum": 5175, "axis": null}}},
     {"data": {"values": [{}]}, "mark": {"type": "text", "text": "∫", "align": "left", "baseline": "middle", "fontSize": 18, "font": "DejaVu Sans"}, "encoding": {"x": {"datum": 318, "axis": null}, "y": {"datum": 5230, "axis": null}}},
     {"data": {"values": [{}]}, "mark": {"type": "text", "text": "Ldt = 4.7 fb⁻¹", "align": "left", "baseline": "middle", "fontSize": 10.4}, "encoding": {"x": {"datum": 360, "axis": null}, "y": {"datum": 5264, "axis": null}}},
     {"data": {"values": [{}]}, "mark": {"type": "text", "text": "ATLAS", "align": "left", "baseline": "middle", "fontSize": 9.6, "fontWeight": "bold", "fontStyle": "italic"}, "encoding": {"x": {"datum": 280, "axis": null}, "y": {"datum": 4630, "axis": null}}},
     {"data": {"values": [{}]}, "mark": {"type": "text", "text": "√s= 7 TeV", "align": "left", "baseline": "middle", "fontSize": 9.4}, "encoding": {"x": {"datum": 284, "axis": null}, "y": {"datum": 4115, "axis": null}}}
    ]
   },
   {
    "width": 236, "height": 223,
    "resolve": {"axis": {"x": "independent", "y": "independent"}},
    "layer": [
     {
      "data": {"name": "d_comp"},
      "mark": {"type": "rect", "clip": true},
      "encoding": {
        "x": {"field": "b", "type": "quantitative", "scale": {"domain": [0, 9], "nice": false, "zero": false},
              "axis": {"orient": "bottom", "values": [0,1,2,3,4,5,6,7,8,9], "tickSize": -6, "labelPadding": 9, "labelFontSize": 12.5, "title": "Δηⱼⱼ", "titleAnchor": "end", "titleFontSize": 12.5, "minExtent": 16, "maxExtent": 16, "titlePadding": 0}},
        "x2": {"field": "e"},
        "y": {"field": "v", "type": "quantitative", "scale": {"domain": [0, 9550], "nice": false},
              "axis": {"orient": "left", "values": [1000,2000,3000,4000,5000,6000,7000,8000,9000], "format": "d", "tickSize": -6, "labelPadding": 8, "labelFontSize": 12.5, "title": "Events", "titleAnchor": "end", "titleFontSize": 12.5, "minExtent": 30, "maxExtent": 30, "titlePadding": 4}},
        "y2": {"datum": 0},
        "color": {"field": "c", "type": "nominal",
          "scale": {"domain": ["Data","100×H(120)→ττ","Z→ττ+jets","Z→ee,μμ+jets","tt̄+single-top","WW/WZ/ZZ","Fake leptons"], "range": ["#000000","#e8303a","#1ca0ee","#f9a160","#0c0cf0","#fde7a6","#46ee46"]},
          "legend": {"title": null, "orient": "none", "legendX": 161, "legendY": 10, "symbolSize": 144, "symbolType": "square", "labelFontSize": 7.6, "labelFont": "Liberation Sans", "labelColor": "black", "labelOffset": 3, "rowPadding": 7.2, "symbolStrokeWidth": 1, "labelLimit": 200,
            "encode": {"symbols": {"update": {
              "shape": {"signal": "datum.value == 'Data' ? 'M-1,0H1M0.4,0A0.4,0.4,0,1,1,-0.4,0A0.4,0.4,0,1,1,0.4,0Z' : (datum.value == '100×H(120)→ττ' ? 'M-1,0H1' : 'square')"},
              "stroke": {"signal": "datum.value == 'Data' ? 'black' : (datum.value == '100×H(120)→ττ' ? '#e8303a' : (datum.value == 'WW/WZ/ZZ' ? '#f0c040' : 'transparent'))"},
              "strokeDash": {"signal": "datum.value == '100×H(120)→ττ' ? [1.5,1.5] : [1,0]"}
            }}}}}
      }
     },
     {
      "data": {"name": "d_pts"},
      "mark": {"type": "rule", "color": "black", "strokeWidth": 1},
      "encoding": {
        "x": {"field": "b", "type": "quantitative", "axis": {"orient": "top", "values": [0,1,2,3,4,5,6,7,8,9], "labels": false, "tickSize": -6, "title": null}},
        "x2": {"field": "e"},
        "y": {"field": "d", "type": "quantitative", "axis": {"orient": "right", "values": [1000,2000,3000,4000,5000,6000,7000,8000,9000], "labels": false, "tickSize": -6, "title": null}}
      }
     },
     {
      "data": {"name": "d_pts"},
      "mark": {"type": "rule", "color": "#e8303a", "strokeWidth": 1, "strokeDash": [2,2]},
      "encoding": {
        "x": {"field": "b", "type": "quantitative", "axis": {"orient": "bottom", "values": [0.2,0.4,0.6,0.8,1.2,1.4,1.6,1.8,2.2,2.4,2.6,2.8,3.2,3.4,3.6,3.8,4.2,4.4,4.6,4.8,5.2,5.4,5.6,5.8,6.2,6.4,6.6,6.8,7.2,7.4,7.6,7.8,8.2,8.4,8.6,8.8], "labels": false, "tickSize": -3, "title": null}},
        "x2": {"field": "e"},
        "y": {"field": "h", "type": "quantitative", "axis": {"orient": "left", "values": [200,400,600,800,1200,1400,1600,1800,2200,2400,2600,2800,3200,3400,3600,3800,4200,4400,4600,4800,5200,5400,5600,5800,6200,6400,6600,6800,7200,7400,7600,7800,8200,8400,8600,8800,9200,9400], "labels": false, "tickSize": -3, "title": null}}
      }
     },
     {
      "data": {"name": "d_pts"},
      "mark": {"type": "circle", "color": "black", "opacity": 1, "size": 30},
      "encoding": {
        "x": {"field": "m", "type": "quantitative", "axis": {"orient": "top", "values": [0.2,0.4,0.6,0.8,1.2,1.4,1.6,1.8,2.2,2.4,2.6,2.8,3.2,3.4,3.6,3.8,4.2,4.4,4.6,4.8,5.2,5.4,5.6,5.8,6.2,6.4,6.6,6.8,7.2,7.4,7.6,7.8,8.2,8.4,8.6,8.8], "labels": false, "tickSize": -3, "title": null}},
        "y": {"field": "d", "type": "quantitative", "axis": {"orient": "right", "values": [200,400,600,800,1200,1400,1600,1800,2200,2400,2600,2800,3200,3400,3600,3800,4200,4400,4600,4800,5200,5400,5600,5800,6200,6400,6600,6800,7200,7400,7600,7800,8200,8400,8600,8800,9200,9400], "labels": false, "tickSize": -3, "title": null}}
      }
     },
     {"data": {"values": [{}]}, "mark": {"type": "text", "text": "ee+eμ+μμ", "align": "left", "baseline": "middle", "fontSize": 12.5, "fontStyle": "italic"}, "encoding": {"x": {"datum": 0.23, "axis": null}, "y": {"datum": 8477, "axis": null}}},
     {"data": {"values": [{}]}, "mark": {"type": "text", "text": "∫", "align": "left", "baseline": "middle", "fontSize": 18, "font": "DejaVu Sans"}, "encoding": {"x": {"datum": 2.88, "axis": null}, "y": {"datum": 8560, "axis": null}}},
     {"data": {"values": [{}]}, "mark": {"type": "text", "text": "Ldt = 4.7 fb⁻¹", "align": "left", "baseline": "middle", "fontSize": 11.2}, "encoding": {"x": {"datum": 3.24, "axis": null}, "y": {"datum": 8635, "axis": null}}},
     {"data": {"values": [{}]}, "mark": {"type": "text", "text": "ATLAS", "align": "left", "baseline": "middle", "fontSize": 9.6, "fontWeight": "bold", "fontStyle": "italic"}, "encoding": {"x": {"datum": 2.52, "axis": null}, "y": {"datum": 7576, "axis": null}}},
     {"data": {"values": [{}]}, "mark": {"type": "text", "text": "√s= 7 TeV", "align": "left", "baseline": "middle", "fontSize": 9.6}, "encoding": {"x": {"datum": 2.56, "axis": null}, "y": {"datum": 6735, "axis": null}}}
    ]
   }
  ],
  "spacing": 15,
  "resolve": {"scale": {"color": "independent"}, "legend": {"color": "independent"}}
 }
]
}
